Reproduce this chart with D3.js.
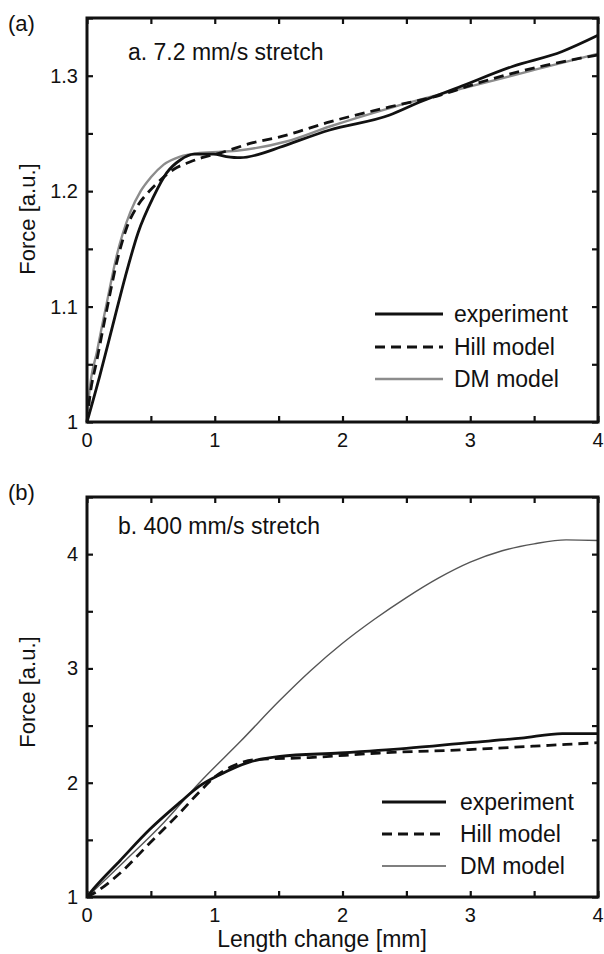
<!DOCTYPE html>
<html>
<head>
<meta charset="utf-8">
<script src="https://cdn.jsdelivr.net/npm/d3@7"></script>
<style>
  html, body { margin: 0; padding: 0; background: #fff; }
  svg { display: block; }
  text { font-family: "Liberation Sans", Arial, Helvetica, sans-serif; fill: #111; }
</style>
</head>
<body>
<svg id="chart" width="604" height="954"></svg>
<script>
// ---------- Data: panel (a) 7.2 mm/s stretch ----------
const lenA_exp  = [0, 0.1, 0.2, 0.3, 0.4, 0.52, 0.625, 0.73, 0.84, 0.99, 1.09, 1.2, 1.35, 1.51, 1.9, 2.37, 2.6, 2.91, 3.33, 3.72, 4.0];
const forceA_exp = [1.0, 1.040, 1.083, 1.126, 1.164, 1.195, 1.216, 1.227, 1.232, 1.232, 1.230, 1.229, 1.232, 1.238, 1.253, 1.266, 1.277, 1.290, 1.308, 1.321, 1.335];

const lenA_hill  = [0, 0.02, 0.08, 0.16, 0.23, 0.31, 0.40, 0.48, 0.55, 0.68, 0.8, 0.9, 1.04, 1.3, 1.51, 1.9, 2.37, 2.76, 3.07, 3.59, 4.0];
const forceA_hill = [1.0, 1.02, 1.055, 1.10, 1.137, 1.168, 1.188, 1.199, 1.207, 1.219, 1.225, 1.229, 1.233, 1.242, 1.247, 1.260, 1.273, 1.283, 1.294, 1.309, 1.318];

const lenA_dm  = [0, 0.015, 0.08, 0.16, 0.23, 0.34, 0.42, 0.5, 0.6, 0.73, 0.88, 1.17, 1.56, 1.9, 2.37, 2.94, 3.5, 4.0];
const forceA_dm = [1.0, 1.022, 1.062, 1.106, 1.143, 1.182, 1.200, 1.212, 1.223, 1.230, 1.233, 1.235, 1.243, 1.256, 1.272, 1.289, 1.305, 1.319];

// ---------- Data: panel (b) 400 mm/s stretch ----------
const lenB_exp  = [0, 0.05, 0.26, 0.49, 0.73, 0.88, 1.04, 1.27, 1.51, 1.98, 2.5, 2.99, 3.4, 3.72, 4.0];
const forceB_exp = [1.0, 1.07, 1.32, 1.59, 1.83, 1.97, 2.07, 2.18, 2.23, 2.26, 2.30, 2.35, 2.39, 2.43, 2.43];

const lenB_hill  = [0, 0.05, 0.26, 0.49, 0.73, 0.88, 1.0, 1.15, 1.3, 1.74, 2.29, 2.99, 3.5, 4.0];
const forceB_hill = [1.0, 1.03, 1.21, 1.47, 1.74, 1.92, 2.05, 2.15, 2.20, 2.22, 2.26, 2.29, 2.32, 2.35];

const lenB_dm  = [0, 0.3, 0.6, 0.88, 1.2, 1.5, 1.75, 2.0, 2.25, 2.5, 2.75, 3.0, 3.25, 3.5, 3.75, 4.0];
const forceB_dm = [1.0, 1.32, 1.65, 2.0, 2.36, 2.71, 2.98, 3.22, 3.43, 3.62, 3.79, 3.93, 4.03, 4.09, 4.125, 4.12];

// ---------- Tick labels ----------
const xTicks = [0, 1, 2, 3, 4];
const yTicksA = [1, 1.1, 1.2, 1.3];
const yTicksB = [1, 2, 3, 4];
const seriesNames = ["experiment", "Hill model", "DM model"];

const svg = d3.select("#chart");
const L = 87, R = 598;

const styles = [
  { stroke: "#111", width: 2.8, dash: null },
  { stroke: "#111", width: 2.8, dash: "10,6" },
  { stroke: "#8c8c8c", width: 2.4, dash: null }
];

function zip(xs, ys) { return xs.map((x, i) => [x, ys[i]]); }

function panel(cfg) {
  const x = d3.scaleLinear().domain([0, 4]).range([L, R]);
  const y = d3.scaleLinear().domain(cfg.yDomain).range([cfg.bottom, cfg.top]);
  const g = svg.append("g");

  const line = d3.line().x(d => x(d[0])).y(d => y(d[1])).curve(d3.curveMonotoneX);
  [2, 1, 0].forEach(i => {
    const s = cfg.series[i];
    const st = Object.assign({}, styles[i], cfg.styleOverride && cfg.styleOverride[i] || {});
    g.append("path")
      .datum(zip(s[0], s[1]))
      .attr("d", line)
      .attr("fill", "none")
      .attr("stroke", st.stroke)
      .attr("stroke-width", st.width)
      .attr("stroke-dasharray", st.dash)
      .attr("stroke-linejoin", "round");
  });

  const xMinor = d3.range(0, 4.0001, 0.5);
  const yMinor = d3.range(cfg.yDomain[0], cfg.yDomain[1] + 1e-9, cfg.yMinorStep);
  g.append("g").attr("transform", `translate(0,${cfg.bottom})`)
    .call(d3.axisBottom(x).tickValues(xMinor).tickSize(-6).tickFormat(""));
  g.append("g").attr("transform", `translate(0,${cfg.top})`)
    .call(d3.axisTop(x).tickValues(xMinor).tickSize(-6).tickFormat(""));
  g.append("g").attr("transform", `translate(${L},0)`)
    .call(d3.axisLeft(y).tickValues(yMinor).tickSize(-6).tickFormat(""));
  g.append("g").attr("transform", `translate(${R},0)`)
    .call(d3.axisRight(y).tickValues(yMinor).tickSize(-6).tickFormat(""));
  g.selectAll(".domain").remove();
  g.selectAll(".tick line").attr("stroke", "#111").attr("stroke-width", 2.2);

  g.append("rect")
    .attr("x", L).attr("y", cfg.top)
    .attr("width", R - L).attr("height", cfg.bottom - cfg.top)
    .attr("fill", "none").attr("stroke", "#111").attr("stroke-width", 3);

  g.selectAll(".xl").data(xTicks).enter().append("text")
    .attr("x", d => x(d)).attr("y", cfg.bottom + 25)
    .attr("text-anchor", "middle").attr("font-size", 20)
    .text(d => d);
  g.selectAll(".yl").data(cfg.yTicks).enter().append("text")
    .attr("x", L - 9).attr("y", d => y(d) + 7)
    .attr("text-anchor", "end").attr("font-size", 20)
    .text(d => d);

  g.append("text")
    .attr("transform", `translate(35,${cfg.yLabelY}) rotate(-90)`)
    .attr("text-anchor", "middle").attr("font-size", 22)
    .text("Force [a.u.]");

  g.append("text").attr("x", 8).attr("y", cfg.letterY)
    .attr("font-size", 22).text(cfg.letter);

  g.append("text").attr("x", cfg.titleX).attr("y", cfg.titleY)
    .attr("font-size", 23).text(cfg.title);

  cfg.series.forEach((s, i) => {
    const st = Object.assign({}, styles[i], cfg.styleOverride && cfg.styleOverride[i] || {});
    const ly = cfg.legY[i];
    g.append("line")
      .attr("x1", cfg.legX1).attr("x2", cfg.legX2)
      .attr("y1", ly).attr("y2", ly)
      .attr("stroke", st.stroke).attr("stroke-width", st.width)
      .attr("stroke-dasharray", st.dash);
    g.append("text").attr("x", cfg.legTx).attr("y", ly + 8)
      .attr("font-size", 23).text(seriesNames[i]);
  });
}

panel({
  top: 18, bottom: 422, yDomain: [1, 1.35], yMinorStep: 0.05, yTicks: yTicksA,
  series: [[lenA_exp, forceA_exp], [lenA_hill, forceA_hill], [lenA_dm, forceA_dm]],
  yLabelY: 219, letter: "(a)", letterY: 31,
  title: "a. 7.2 mm/s stretch", titleX: 128, titleY: 60,
  legX1: 375, legX2: 443, legTx: 454, legY: [314, 347, 379]
});

panel({
  top: 497, bottom: 897, yDomain: [1, 4.5], yMinorStep: 0.5, yTicks: yTicksB,
  series: [[lenB_exp, forceB_exp], [lenB_hill, forceB_hill], [lenB_dm, forceB_dm]],
  styleOverride: { 2: { stroke: "#555", width: 1.4 } },
  yLabelY: 692, letter: "(b)", letterY: 500,
  title: "b. 400 mm/s stretch", titleX: 118, titleY: 534,
  legX1: 382, legX2: 446, legTx: 460, legY: [802, 834, 866]
});

svg.append("text")
  .attr("x", 322).attr("y", 947)
  .attr("text-anchor", "middle").attr("font-size", 23)
  .text("Length change [mm]");
</script>
</body>
</html>
